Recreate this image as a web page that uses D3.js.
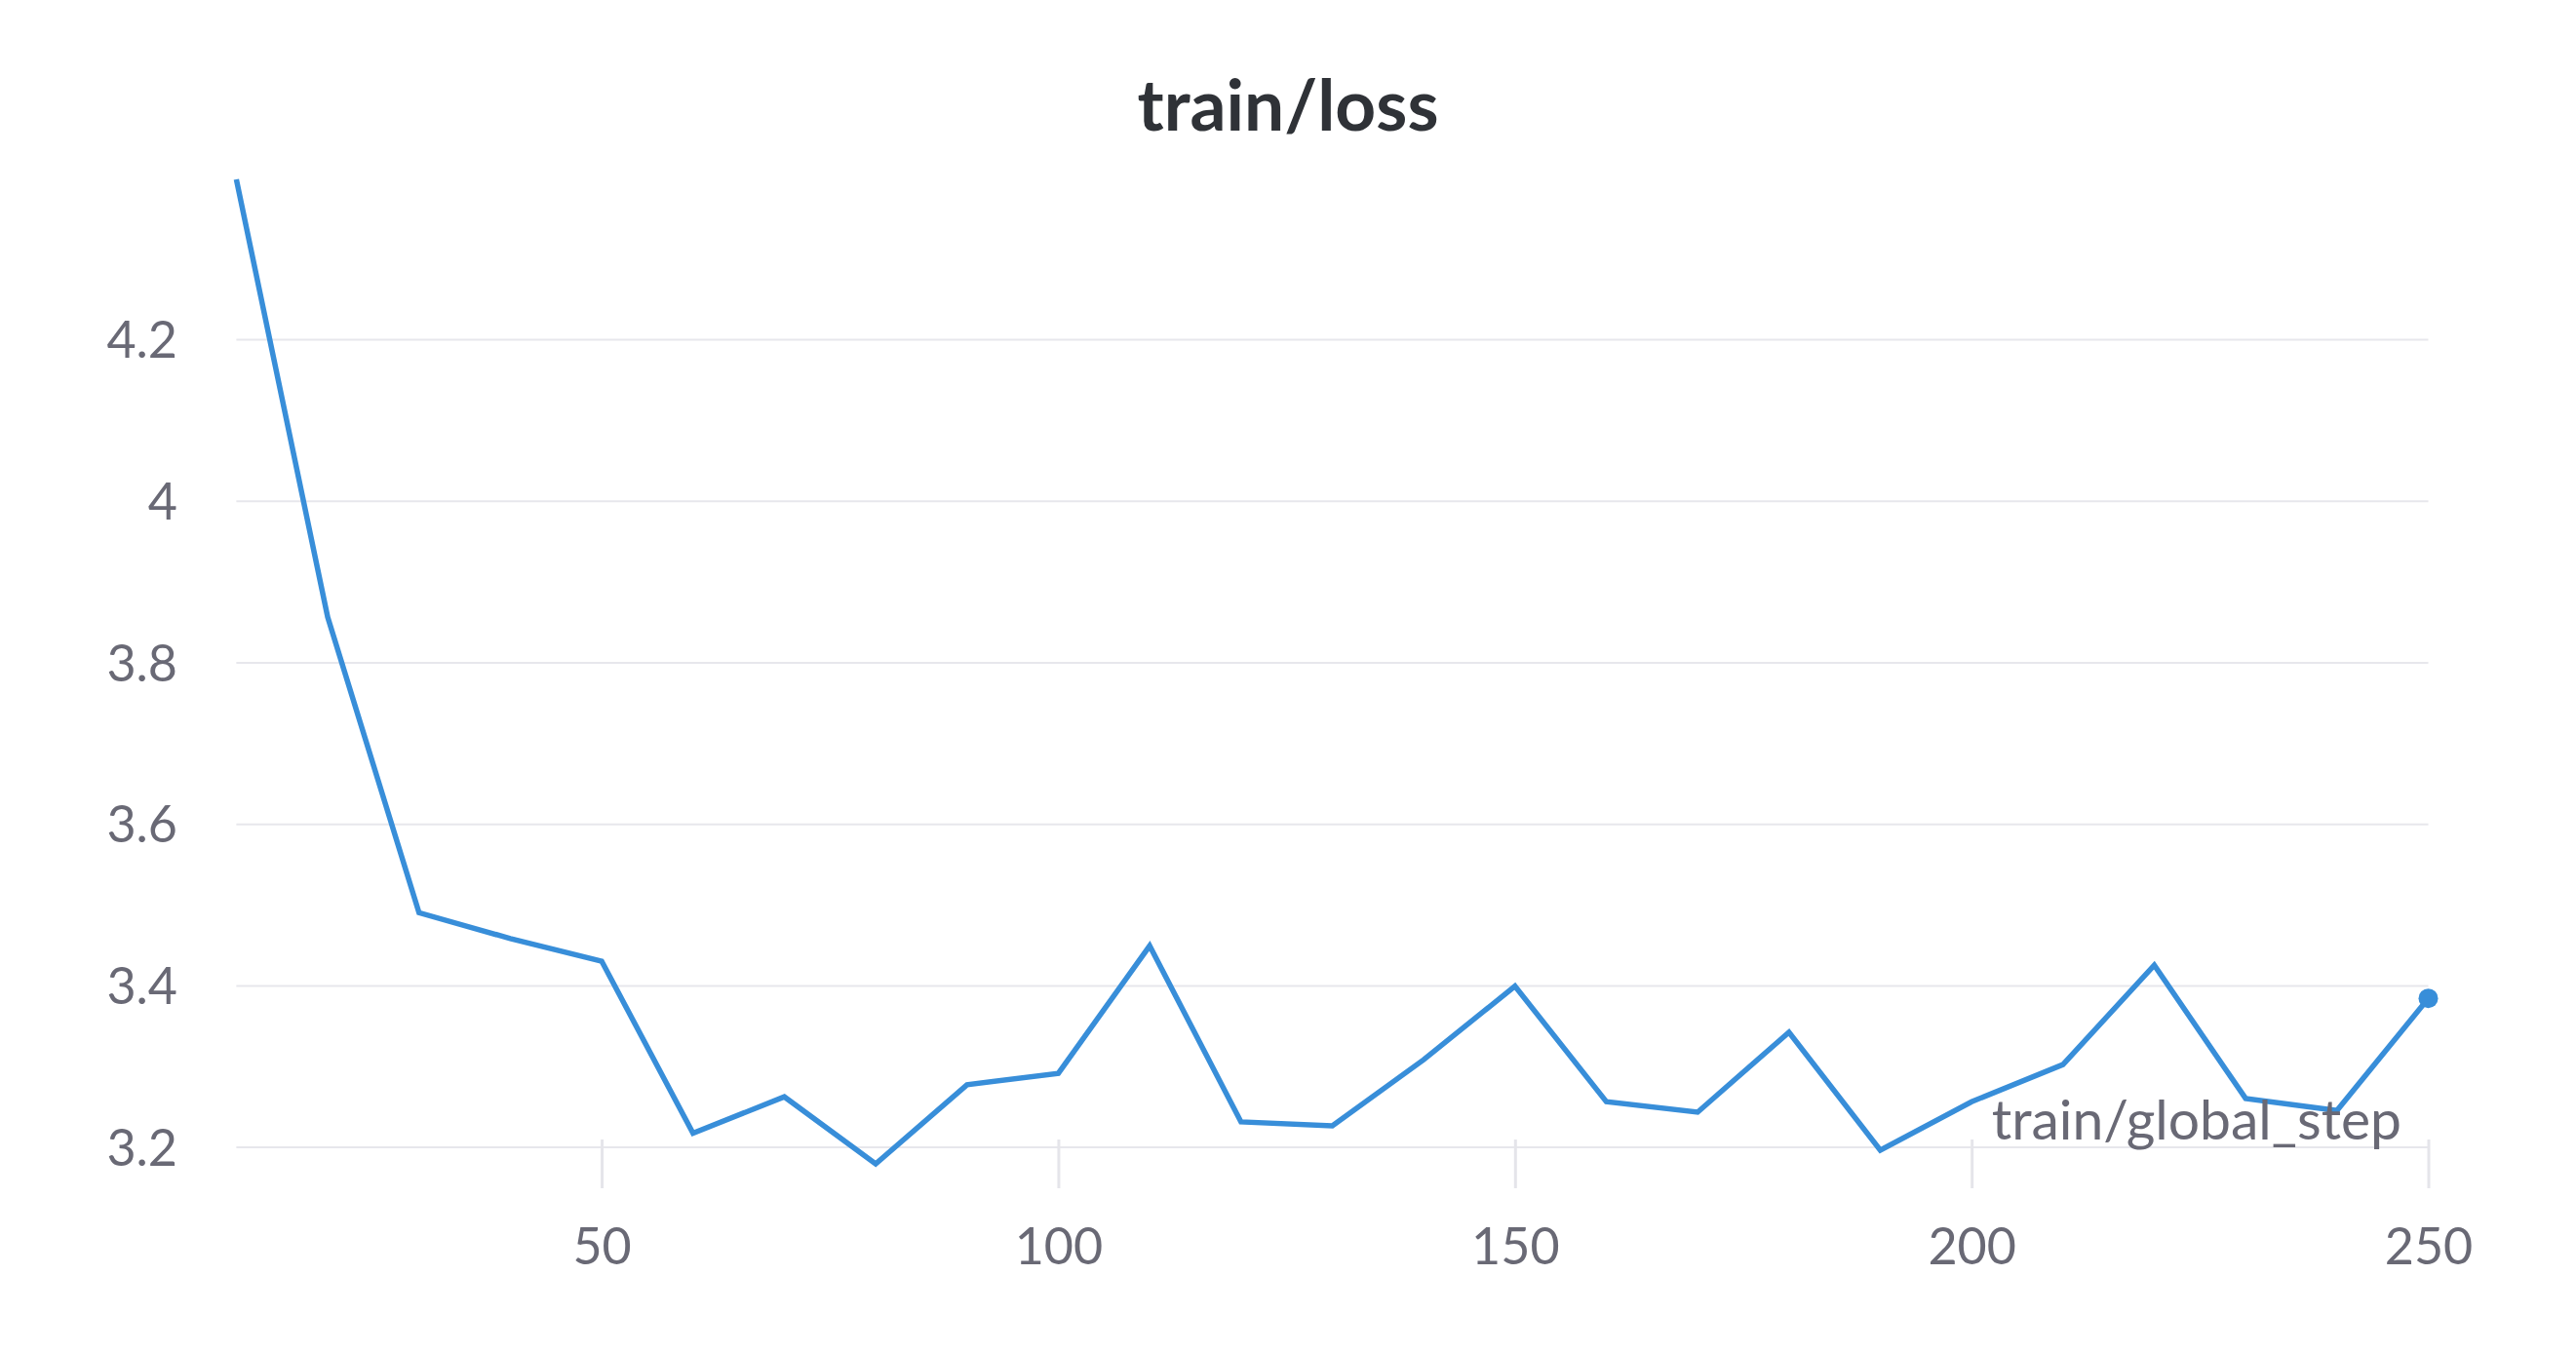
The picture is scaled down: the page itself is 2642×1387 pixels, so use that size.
<!DOCTYPE html>
<html>
<head>
<meta charset="utf-8">
<script src="https://cdn.jsdelivr.net/npm/d3@7"></script>
<style>
  html, body { margin: 0; padding: 0; background: #ffffff; }
  svg { display: block; }
</style>
</head>
<body>
<svg id="chart" width="2642" height="1387"></svg>
<script>
const chartTitle = "train/loss";
const xAxisLabel = "train/global_step";
const steps = [10, 20, 30, 40, 50, 60, 70, 80, 90, 100, 110, 120, 130, 140, 150, 160, 170, 180, 190, 200, 210, 220, 230, 240, 250];
const loss  = [4.398, 3.856, 3.490, 3.458, 3.430, 3.217, 3.262, 3.179, 3.277, 3.291, 3.449, 3.231, 3.226, 3.308, 3.399, 3.256, 3.243, 3.342, 3.196, 3.256, 3.302, 3.425, 3.260, 3.245, 3.384];
const xTicks = [50, 100, 150, 200, 250];
const yTicks = [3.2, 3.4, 3.6, 3.8, 4.0, 4.2];
const yTickLabels = ["3.2", "3.4", "3.6", "3.8", "4", "4.2"];

(function () {
const svg = d3.select("#chart");
const W = 2642, H = 1387;
const pLeft = 242.4, pRight = 2490.5, pTop = 184, pBottom = 1194;

const x = d3.scaleLinear().domain(d3.extent(steps)).range([pLeft, pRight]);
const y = d3.scaleLinear().domain(d3.extent(loss)).range([pBottom, pTop]);

const FONT = "Lato, 'Noto Sans', sans-serif";
const gray = "#696975";

// title
svg.append("text")
  .attr("x", W / 2).attr("y", 134)
  .attr("text-anchor", "middle")
  .attr("font-family", FONT).attr("font-weight", 700)
  .attr("font-size", 73).attr("fill", "#2f3237")
  .text(chartTitle);

// horizontal gridlines + y tick labels
const yAxis = d3.axisLeft(y).tickValues(yTicks).tickSize(0).tickPadding(0)
  .tickFormat((d, i) => yTickLabels[i]);
const gy = svg.append("g").attr("transform", `translate(${pLeft},0)`).call(yAxis);
gy.select(".domain").remove();
gy.selectAll(".tick line").remove();
gy.selectAll(".tick").append("line")
  .attr("x1", 0).attr("x2", pRight - pLeft)
  .attr("stroke", "#e7e7ec").attr("stroke-width", 2);
gy.selectAll(".tick text")
  .attr("x", 182 - pLeft).attr("dy", "0.36em")
  .attr("font-family", FONT).attr("font-size", 52)
  .attr("fill", gray).attr("text-anchor", "end");

// x axis ticks
const xAxis = d3.axisBottom(x).tickValues(xTicks).tickSize(0).tickPadding(0)
  .tickFormat(d3.format("d"));
const gx = svg.append("g").attr("transform", `translate(0,${pBottom})`).call(xAxis);
gx.select(".domain").remove();
gx.selectAll(".tick line").remove();
gx.selectAll(".tick").append("line")
  .attr("y1", -25).attr("y2", 25)
  .attr("stroke", "#e5e5ea").attr("stroke-width", 3);
gx.selectAll(".tick text")
  .attr("y", 103).attr("dy", 0)
  .attr("font-family", FONT).attr("font-size", 52)
  .attr("fill", gray);

// series line
const line = d3.line().x((d, i) => x(steps[i])).y(d => y(d));
svg.append("path")
  .datum(loss)
  .attr("d", line)
  .attr("fill", "none")
  .attr("stroke", "#388ed9")
  .attr("stroke-width", 5.5)
  .attr("stroke-linejoin", "miter");

// end dot
svg.append("circle")
  .attr("cx", x(steps[steps.length - 1]))
  .attr("cy", y(loss[loss.length - 1]))
  .attr("r", 10)
  .attr("fill", "#388ed9");

// x axis label
svg.append("text")
  .attr("x", 2463).attr("y", 1169)
  .attr("text-anchor", "end")
  .attr("font-family", FONT).attr("font-size", 57)
  .attr("fill", gray)
  .text(xAxisLabel);
})();
</script>
</body>
</html>
